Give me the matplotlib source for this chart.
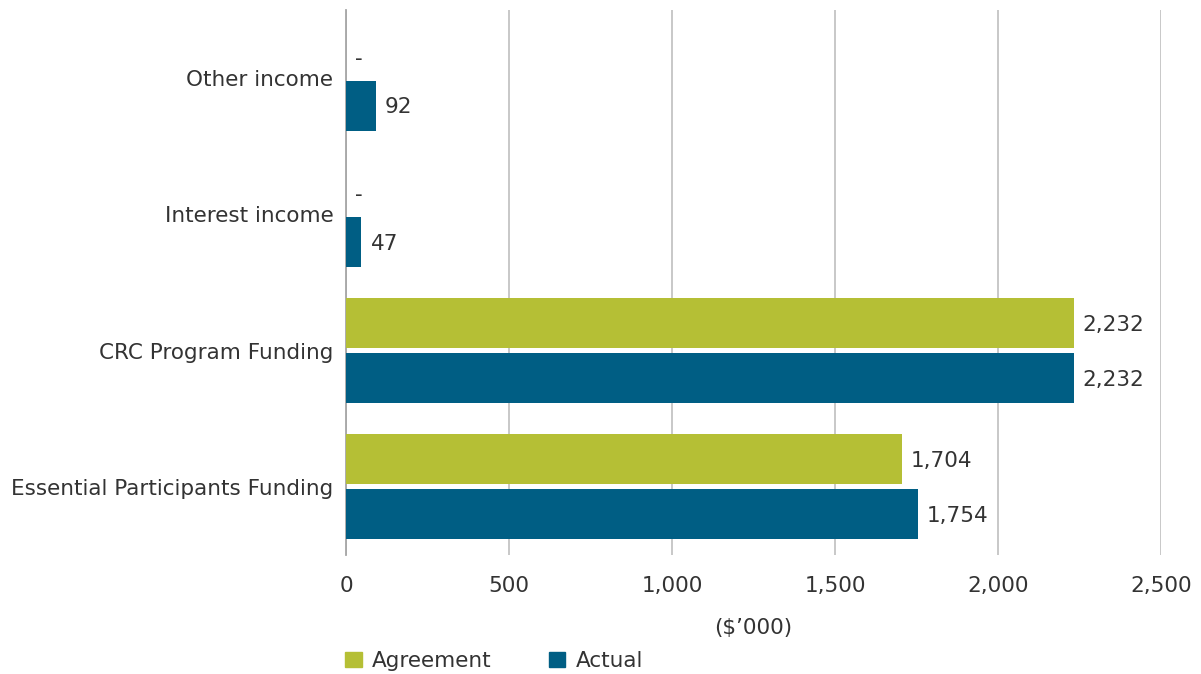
import matplotlib
matplotlib.use("Agg")
import matplotlib.pyplot as plt
from matplotlib.patches import Patch

categories = ["Essential Participants Funding", "CRC Program Funding", "Interest income", "Other income"]
agreement = [1704, 2232, 0, 0]
actual = [1754, 2232, 47, 92]
agreement_labels = ["1,704", "2,232", "-", "-"]
actual_labels = ["1,754", "2,232", "47", "92"]
xticks = [0, 500, 1000, 1500, 2000, 2500]
xtick_labels = ["0", "500", "1,000", "1,500", "2,000", "2,500"]

green = "#b5bf35"
blue = "#005e84"
txt = "#333333"
fs = 15.5

plt.rcParams['font.family'] = ['DejaVu Sans']

fig = plt.figure(figsize=(12.01, 6.74), dpi=100)
ax = fig.add_axes([346/1201, 1-555/674, (1161-346)/1201, (555-10)/674])

h = 0.367
off = 0.2018
ys = list(range(len(categories)))
ax.barh([y + off for y in ys], agreement, height=h, color=green, zorder=3)
ax.barh([y - off for y in ys], actual, height=h, color=blue, zorder=3)

def dy(lbl):
    return -0.06 if lbl == "-" else -0.012

for y, v, l in zip(ys, agreement, agreement_labels):
    ax.text(v + 28, y + off + dy(l), l, va="center", ha="left", fontsize=fs, color=txt)
for y, v, l in zip(ys, actual, actual_labels):
    ax.text(v + 28, y - off + dy(l), l, va="center", ha="left", fontsize=fs, color=txt)

ax.set_xlim(0, 2500)
ax.set_ylim(-0.5, 3.5)
ax.set_xticks(xticks)
ax.set_xticklabels(xtick_labels, fontsize=fs, color=txt)
ax.set_yticks(ys)
ax.set_yticklabels(categories, fontsize=fs, color=txt)
ax.tick_params(axis="both", length=0)
ax.tick_params(axis="x", pad=15)
ax.tick_params(axis="y", pad=9)
ax.grid(axis="x", color="#c4c4c4", linewidth=1.3, zorder=0)
ax.set_axisbelow(True)
for s in ["top", "right", "bottom"]:
    ax.spines[s].set_visible(False)
ax.spines["left"].set_color("#a6a6a6")
ax.spines["left"].set_linewidth(1.3)
ax.set_xlabel("($\u2019000)", fontsize=fs, color=txt, labelpad=16)

handles = [Patch(color=green, label="Agreement"), Patch(color=blue, label="Actual")]
fig.legend(handles=handles, loc="center left", bbox_to_anchor=(326/1201, 1-661/674), ncol=2,
           frameon=False, fontsize=fs, handlelength=0.75, handleheight=0.75, handletextpad=0.5,
           columnspacing=2.63, labelcolor=txt)

fig.savefig("out.png", dpi=100)
